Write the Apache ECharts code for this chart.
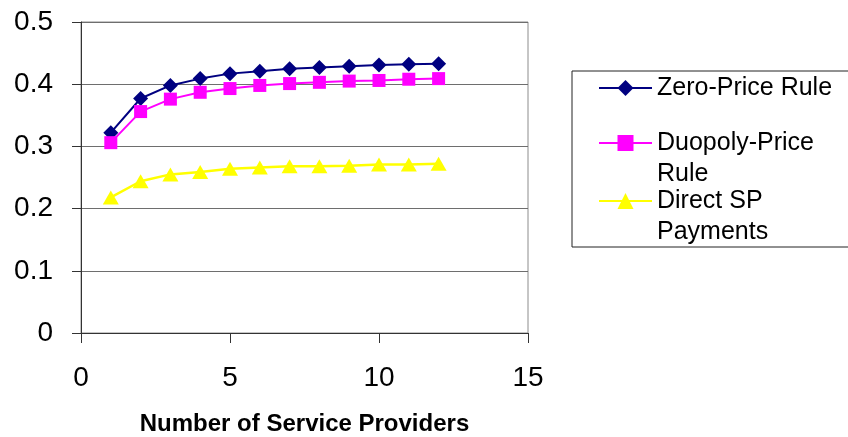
<!DOCTYPE html>
<html>
<head>
<meta charset="utf-8">
<script src="https://cdn.jsdelivr.net/npm/echarts@6/dist/echarts.min.js"></script>
<style>
  html, body { margin: 0; padding: 0; background: #fff; }
  #chart { width: 848px; height: 437px; }
</style>
</head>
<body>
<div id="chart"></div>
<script>
// Number of service providers on the horizontal axis
const providers = [1, 2, 3, 4, 5, 6, 7, 8, 9, 10, 11, 12];

// Series values, one per provider count
const zeroPrice = [0.322, 0.377, 0.398, 0.409, 0.417, 0.421, 0.425, 0.427, 0.429, 0.431, 0.432, 0.433];
const duopolyPrice = [0.306, 0.356, 0.376, 0.387, 0.393, 0.398, 0.401, 0.403, 0.405, 0.406, 0.408, 0.409];
const directSP = [0.218, 0.244, 0.255, 0.259, 0.264, 0.266, 0.268, 0.268, 0.269, 0.271, 0.271, 0.272];

// Series names and axis title
const seriesNames = ['Zero-Price Rule', 'Duopoly-Price Rule', 'Direct SP Payments'];
// A leading empty line keeps the first text line level with the legend icon
const legendLabels = ['Zero-Price Rule', '\nDuopoly-Price\nRule', '\nDirect SP\nPayments'];
const xAxisTitle = 'Number of Service Providers';

const FONT = '"Liberation Sans", Arial, sans-serif';
const ICON_H = 20;

function pairs(values) {
  return providers.map((p, i) => [p, values[i]]);
}

// One legend block per series so each entry can sit at its own height
function legendFor(idx, iconCenterY, lines) {
  const halfText = (lines * 31) / 2;
  return {
    show: true,
    orient: 'vertical',
    left: 598,
    top: iconCenterY - halfText,
    padding: 0,
    itemWidth: 53,
    itemHeight: ICON_H,
    selectedMode: false,
    data: [seriesNames[idx]],
    formatter: () => legendLabels[idx],
    textStyle: {
      color: '#000',
      fontSize: 25,
      fontFamily: FONT,
      lineHeight: 31
    }
  };
}

const chart = echarts.init(document.getElementById('chart'), null, { renderer: 'canvas' });

chart.setOption({
  animation: false,
  backgroundColor: '#fff',
  grid: {
    left: 81, right: 320, top: 22, bottom: 104,
    outerBoundsMode: 'none',
    containLabel: false,
    show: true,
    borderColor: '#8c8c8c',
    borderWidth: 1,
    backgroundColor: 'transparent'
  },
  // Frame around the legend
  graphic: [{
    type: 'rect',
    shape: { x: 572, y: 71, width: 290, height: 176 },
    style: { fill: 'transparent', stroke: '#222', lineWidth: 1 },
    z: 0
  }],
  legend: [
    legendFor(0, 88, 1),
    legendFor(1, 143, 3),
    legendFor(2, 201, 3)
  ],
  xAxis: {
    type: 'value',
    min: 0, max: 15, interval: 5,
    name: xAxisTitle,
    nameLocation: 'middle',
    nameGap: 79,
    nameTextStyle: { color: '#000', fontSize: 24, fontWeight: 'bold', fontFamily: FONT },
    axisLine: { show: true, lineStyle: { color: '#333', width: 1 } },
    axisTick: { show: true, inside: false, length: 10, lineStyle: { color: '#333' } },
    axisLabel: { color: '#000', fontSize: 28, fontFamily: FONT, margin: 31 },
    splitLine: { show: false }
  },
  yAxis: {
    type: 'value',
    min: 0, max: 0.5, interval: 0.1,
    axisLine: { show: true, lineStyle: { color: '#333', width: 1 } },
    axisTick: { show: true, inside: false, length: 9, lineStyle: { color: '#333' } },
    axisLabel: { color: '#000', fontSize: 28, fontFamily: FONT, margin: 28 },
    splitLine: { show: true, lineStyle: { color: '#6e6e6e', width: 1 } }
  },
  series: [
    {
      name: seriesNames[0],
      type: 'line',
      data: pairs(zeroPrice),
      symbol: 'diamond',
      symbolSize: [15, 15],
      color: '#000080',
      lineStyle: { color: '#000080', width: 2 },
      itemStyle: { color: '#000080' }
    },
    {
      name: seriesNames[1],
      type: 'line',
      data: pairs(duopolyPrice),
      symbol: 'rect',
      symbolSize: [13, 13],
      color: '#ff00ff',
      lineStyle: { color: '#ff00ff', width: 2 },
      itemStyle: { color: '#ff00ff' }
    },
    {
      name: seriesNames[2],
      type: 'line',
      data: pairs(directSP),
      symbol: 'triangle',
      symbolSize: [16, 14],
      color: '#ffff00',
      lineStyle: { color: '#ffff00', width: 2.5 },
      itemStyle: { color: '#ffff00' }
    }
  ]
});
</script>
</body>
</html>
